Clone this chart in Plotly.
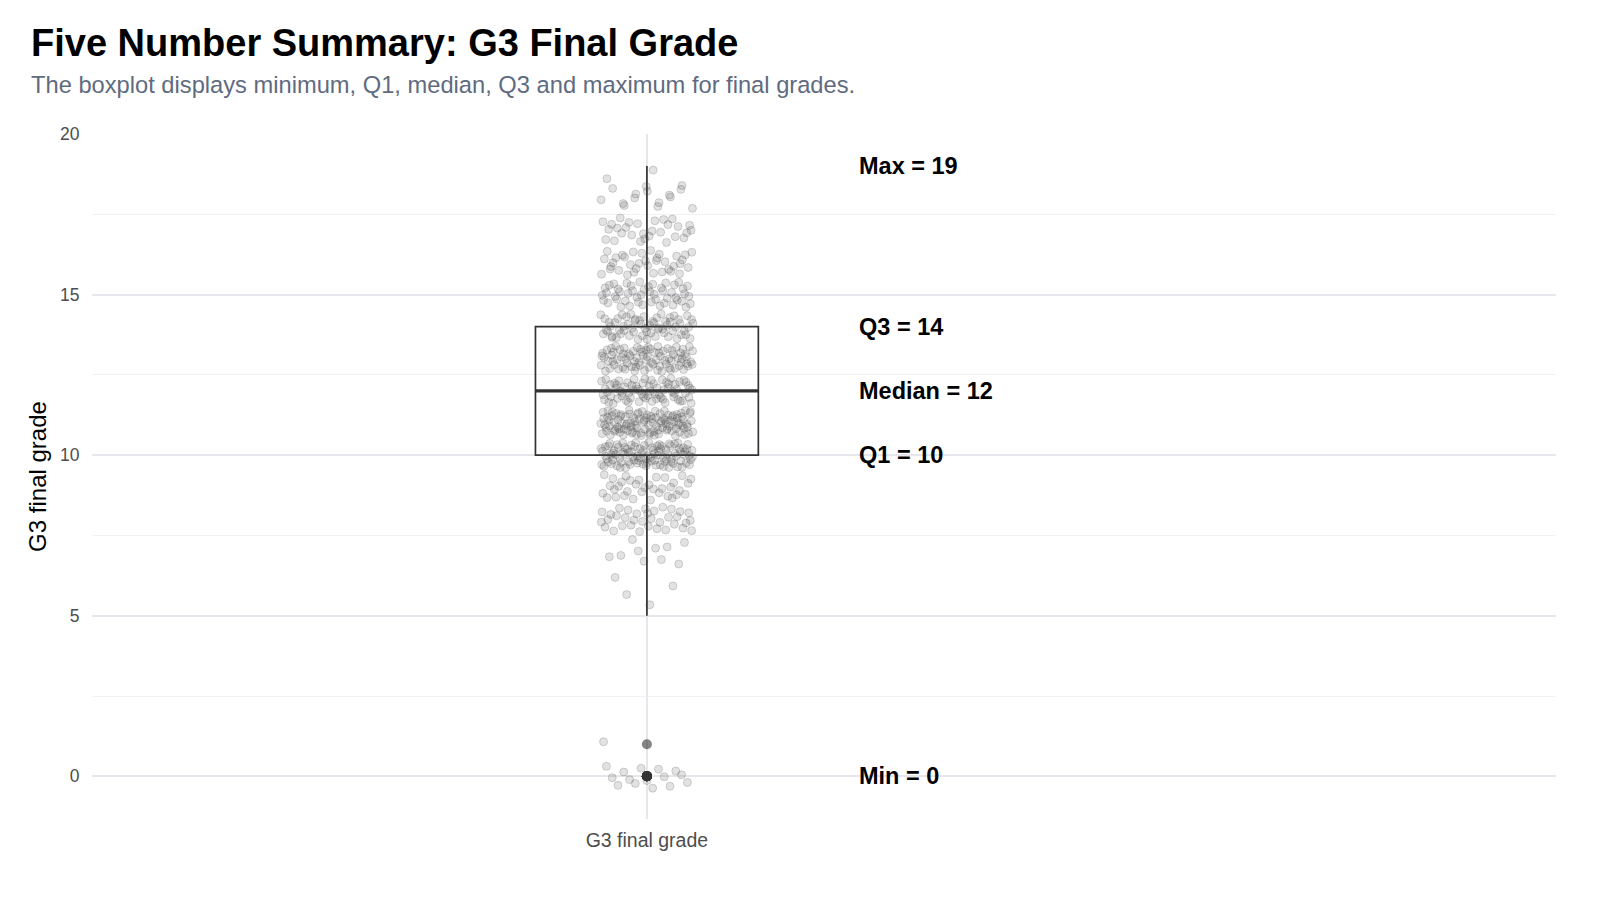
import numpy as np
import plotly.graph_objects as go

# ---- data: G3 final grade distribution (value -> number of students) ----
grade_values = [0, 1, 5, 6, 7, 8, 9, 10, 11, 12, 13, 14, 15, 16, 17, 18, 19]
grade_counts = [15, 1, 1, 3, 10, 35, 35, 97, 104, 72, 82, 63, 49, 36, 29, 15, 2]
category_label = "G3 final grade"
summary_names = ["Max", "Q3", "Median", "Q1", "Min"]

title_text = "Five Number Summary: G3 Final Grade"
subtitle_text = "The boxplot displays minimum, Q1, median, Q3 and maximum for final grades."

# ---- styling constants ----
BOX_X = 1.0
BOX_WIDTH = 0.241
JITTER_W = 0.05
JITTER_H = 0.4
LABEL_X = 1.2267
FONT = "Liberation Sans, Arial, sans-serif"

g3 = np.repeat(np.array(grade_values, dtype=float), grade_counts)

# deterministic low-discrepancy jitter (Halton sequence), like geom_jitter
def halton(i, base):
    f, r = 1.0, 0.0
    while i > 0:
        f /= base
        r += f * (i % base)
        i //= base
    return r

n = len(g3)
jx = np.array([halton(i + 1, 2) for i in range(n)]) * 2 - 1
jy = np.array([halton(i + 1, 3) for i in range(n)]) * 2 - 1
x_jit = BOX_X + jx * JITTER_W
y_jit = g3 + jy * JITTER_H

q1, med, q3 = np.percentile(g3, [25, 50, 75])
iqr = q3 - q1
lo_w = g3[g3 >= q1 - 1.5 * iqr].min()
hi_w = g3[g3 <= q3 + 1.5 * iqr].max()
summary_vals = [hi_w, q3, med, q1, g3.min()]

fig = go.Figure()

fig.add_trace(go.Box(
    y=g3, x0=BOX_X, width=BOX_WIDTH,
    boxpoints="outliers", jitter=0, pointpos=0,
    whiskerwidth=0,
    fillcolor="rgba(0,0,0,0)",
    line=dict(color="#333333", width=1.7),
    marker=dict(color="rgba(51,51,51,0.6)", size=10, line=dict(width=0)),
    quartilemethod="linear",
    hoverinfo="y", showlegend=False,
))

# thicker median line
fig.add_trace(go.Scatter(
    x=[BOX_X - BOX_WIDTH / 2, BOX_X + BOX_WIDTH / 2], y=[med, med],
    mode="lines", line=dict(color="#333333", width=3.4),
    hoverinfo="skip", showlegend=False,
))

fig.add_trace(go.Scatter(
    x=x_jit, y=y_jit, mode="markers",
    marker=dict(size=8, color="rgba(60,60,60,0.15)",
                line=dict(color="rgba(60,60,60,0.2)", width=1)),
    hoverinfo="y", showlegend=False,
))

for name, val in zip(summary_names, summary_vals):
    fig.add_annotation(
        x=LABEL_X, y=val, xref="x", yref="y",
        text=f"<b>{name} = {val:g}</b>", showarrow=False,
        xanchor="left", yanchor="middle",
        font=dict(family=FONT, size=23.5, color="#000000"),
    )

fig.add_annotation(
    x=28.6 / 1600, y=43, xref="paper", yref="paper",
    text=f"<b>{title_text}</b>", showarrow=False,
    xanchor="left", yanchor="middle",
    font=dict(family=FONT, size=38, color="#000000"),
)
fig.add_annotation(
    x=28.6 / 1600, y=85, xref="paper", yref="paper",
    text=subtitle_text, showarrow=False,
    xanchor="left", yanchor="middle",
    font=dict(family=FONT, size=23.7, color="#5f6b80"),
)

# convert the header annotations from pixel to paper coordinates
L, R, T, B = 92, 44, 134, 95
W, H = 1600, 914
pw, ph = W - L - R, H - T - B
for ann in fig.layout.annotations[-2:]:
    ann.x = (ann.x * W - L) / pw
    ann.y = (H - B - ann.y) / ph

fig.update_layout(
    width=W, height=H,
    margin=dict(l=L, r=R, t=T, b=B),
    paper_bgcolor="white", plot_bgcolor="white",
    font=dict(family=FONT),
    xaxis=dict(
        range=[0.4, 1.983], tickvals=[BOX_X], ticktext=[category_label],
        showgrid=True, gridcolor="#e6e6ec", gridwidth=1.5,
        zeroline=False, showline=False,
        ticks="outside", ticklen=4, tickcolor="rgba(0,0,0,0)",
        tickfont=dict(size=19.5, color="#4d4d4d"),
    ),
    yaxis=dict(
        range=[-1.33, 20.0], tickvals=[0, 5, 10, 15, 20],
        showgrid=True, gridcolor="#e6e6ec", gridwidth=1.5,
        zeroline=False, showline=False,
        ticks="outside", ticklen=8, tickcolor="rgba(0,0,0,0)",
        tickfont=dict(size=17.5, color="#4d4d4d"),
        minor=dict(tickvals=[2.5, 7.5, 12.5, 17.5], showgrid=True,
                   gridcolor="#f2f2f4", gridwidth=1, ticks=""),
        title=dict(text="G3 final grade", standoff=6,
                   font=dict(size=24, color="#000000")),
    ),
)

fig.write_html("out.html")
